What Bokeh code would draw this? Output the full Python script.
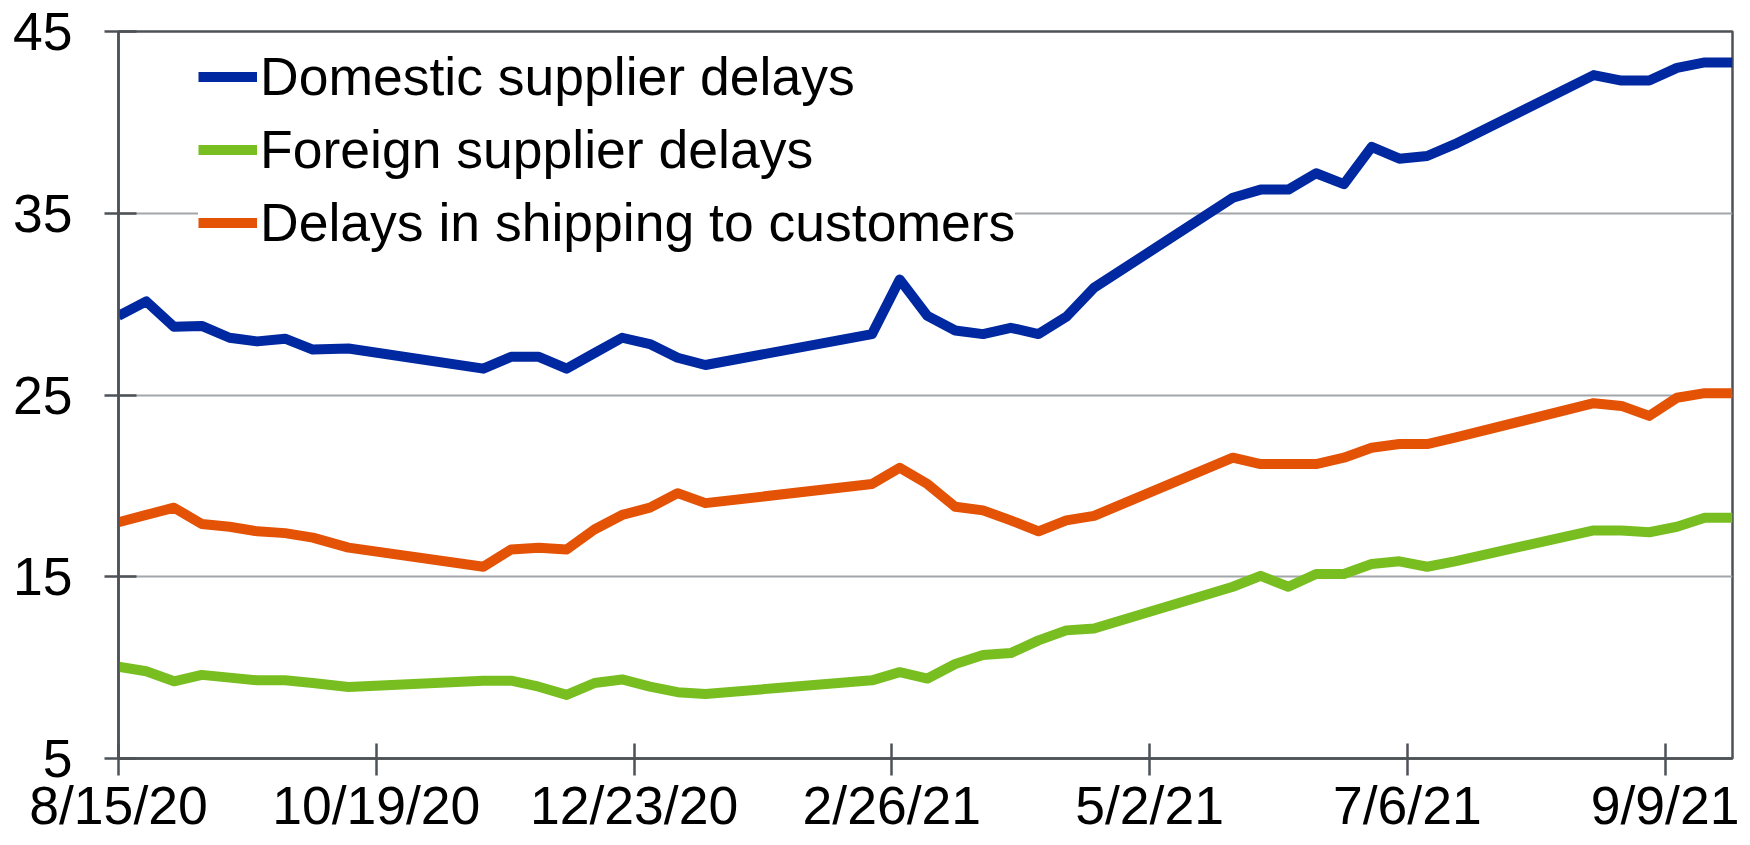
import pandas as pd
from bokeh.plotting import figure
from bokeh.models import (Range1d, FixedTicker, DatetimeTickFormatter, Legend, LegendItem)
from bokeh.embed import file_html
from bokeh.resources import INLINE

# ---- data ----
dates = [
    "2020-08-15", "2020-08-22", "2020-08-29", "2020-09-05", "2020-09-12", "2020-09-19", "2020-09-26", "2020-10-03", "2020-10-12",
    "2020-11-15", "2020-11-22", "2020-11-29", "2020-12-06", "2020-12-13", "2020-12-20", "2020-12-27", "2021-01-03", "2021-01-10",
    "2021-02-21", "2021-02-28", "2021-03-07", "2021-03-14", "2021-03-21", "2021-03-28", "2021-04-04", "2021-04-11", "2021-04-18",
    "2021-05-23", "2021-05-30", "2021-06-06", "2021-06-13", "2021-06-20", "2021-06-27", "2021-07-04", "2021-07-11", "2021-07-18",
    "2021-08-22", "2021-08-29", "2021-09-05", "2021-09-12", "2021-09-19", "2021-09-26",
]
domestic = [
    29.35, 30.15, 28.75, 28.8, 28.15, 27.95, 28.1, 27.5, 27.56,
    26.45, 27.1, 27.1, 26.45, 27.3, 28.15, 27.8, 27.05, 26.65,
    28.35, 31.35, 29.35, 28.55, 28.35, 28.7, 28.35, 29.3, 30.9,
    35.85, 36.3, 36.3, 37.2, 36.6, 38.65, 38.0, 38.15, 38.8,
    42.6, 42.3, 42.3, 43.0, 43.3, 43.3,
]
foreign = [
    10.05, 9.8, 9.25, 9.6, 9.45, 9.3, 9.3, 9.15, 8.93,
    9.28, 9.28, 8.95, 8.5, 9.15, 9.35, 8.95, 8.65, 8.55,
    9.3, 9.75, 9.4, 10.2, 10.7, 10.8, 11.5, 12.05, 12.15,
    14.45, 15.05, 14.45, 15.15, 15.15, 15.7, 15.85, 15.55, 15.85,
    17.55, 17.55, 17.45, 17.75, 18.25, 18.25,
]
shipping = [
    18.0, 18.4, 18.8, 17.9, 17.75, 17.5, 17.4, 17.15, 16.6,
    15.55, 16.5, 16.6, 16.5, 17.6, 18.4, 18.8, 19.6, 19.05,
    20.1, 21.0, 20.1, 18.85, 18.65, 18.1, 17.5, 18.1, 18.35,
    21.55, 21.2, 21.2, 21.2, 21.55, 22.1, 22.3, 22.3, 22.65,
    24.55, 24.4, 23.85, 24.85, 25.1, 25.1,
]
series_names = ["Domestic supplier delays", "Foreign supplier delays", "Delays in shipping to customers"]
series_colors = ["#0028A0", "#78BE21", "#E35205"]

x_tick_dates = ["2020-08-15", "2020-10-19", "2020-12-23", "2021-02-26", "2021-05-02", "2021-07-06", "2021-09-09"]
x_tick_labels = ["8/15/20", "10/19/20", "12/23/20", "2/26/21", "5/2/21", "7/6/21", "9/9/21"]
y_ticks = [5, 15, 25, 35, 45]
x_start, x_end = "2020-08-15", "2021-09-26"
y_start, y_end = 5, 45

# ---- build ----
def ms(d):
    return float(pd.Timestamp(d).value // 10**6)

xs = pd.to_datetime(dates)
FONT = "Liberation Sans"
FSIZE = "53.5px"
AXIS_C = "#4D5257"
GRID_C = "#A2A6AA"

p = figure(width=1742, height=837, x_axis_type="datetime",
           output_backend="svg", toolbar_location=None, title=None,
           x_range=Range1d(ms(x_start), ms(x_end)), y_range=Range1d(y_start, y_end),
           min_border_left=118, min_border_right=10, min_border_top=31, min_border_bottom=79)

p.background_fill_color = "white"
p.border_fill_color = "white"
p.outline_line_color = AXIS_C
p.outline_line_width = 2.5

renderers = []
for vals, col in zip([domestic, foreign, shipping], series_colors):
    r = p.line(xs, vals, line_color=col, line_width=10, line_join="round")
    renderers.append(r)

# x axis
xt = [ms(d) for d in x_tick_dates]
p.xaxis.ticker = FixedTicker(ticks=xt)
p.xaxis.formatter = DatetimeTickFormatter(days="%-m/%-d/%y", months="%-m/%-d/%y", years="%-m/%-d/%y")
p.xaxis.major_label_overrides = {t: l for t, l in zip(xt, x_tick_labels)}
p.xaxis.major_tick_in = 15
p.xaxis.major_tick_out = 17
p.xaxis.major_label_standoff = 0

# y axis
p.yaxis.ticker = FixedTicker(ticks=y_ticks)
p.yaxis.major_tick_in = 18
p.yaxis.major_tick_out = 14
p.yaxis.major_label_standoff = 32

for ax in (p.xaxis[0], p.yaxis[0]):
    ax.axis_line_color = AXIS_C
    ax.axis_line_width = 2.5
    ax.major_tick_line_color = AXIS_C
    ax.major_tick_line_width = 2.5
    ax.minor_tick_line_color = None
    ax.major_label_text_font = FONT
    ax.major_label_text_font_size = FSIZE
    ax.major_label_text_color = "black"

p.xgrid.grid_line_color = None
p.ygrid.ticker = FixedTicker(ticks=y_ticks)
p.ygrid.grid_line_color = GRID_C
p.ygrid.grid_line_width = 2

legend = Legend(
    items=[LegendItem(label=n, renderers=[r]) for n, r in zip(series_names, renderers)],
    location=(80, 505), orientation="vertical",
    label_text_font=FONT, label_text_font_size=FSIZE, label_text_color="black",
    glyph_width=59, glyph_height=61, label_height=61, label_standoff=3,
    spacing=12, padding=12, margin=0,
    background_fill_color="white", background_fill_alpha=1.0,
    border_line_color=None,
)
p.add_layout(legend)

open("out.html", "w").write(file_html(p, INLINE))
